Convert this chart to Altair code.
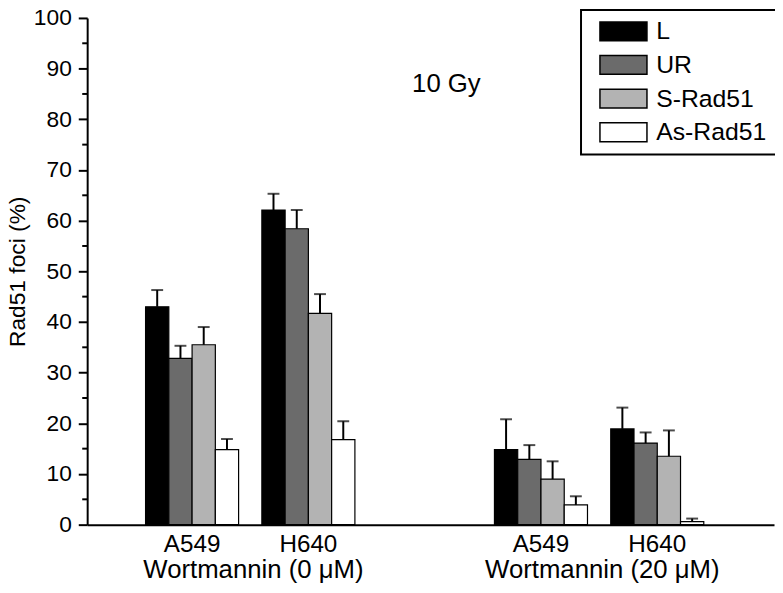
import altair as alt
import pandas as pd

# categories
slots = ["A549 0", "H640 0", "gap", "A549 20", "H640 20"]
cells = ["A549 0", "H640 0", "A549 20", "H640 20"]
series = ["L", "UR", "S-Rad51", "As-Rad51"]
colors = ["#000000", "#6b6b6b", "#b3b3b3", "#ffffff"]

# values per series (order = cells)
L_val = [43.0, 62.1, 14.8, 18.9]
L_err = [3.3, 3.2, 6.0, 4.2]
UR_val = [32.8, 58.4, 12.9, 16.1]
UR_err = [2.5, 3.7, 2.8, 2.1]
S_val = [35.5, 41.7, 9.0, 13.5]
S_err = [3.5, 3.8, 3.5, 5.1]
As_val = [14.8, 16.8, 3.9, 0.6]
As_err = [2.1, 3.6, 1.7, 0.6]

group_labels = ["Wortmannin (0 \u03bcM)", "Wortmannin (20 \u03bcM)"]
group_anchor = ["A549 0", "A549 20"]
major_ticks = list(range(0, 101, 10))
minor_ticks = list(range(5, 100, 10))

rows = []
for s, vals, errs in [("L", L_val, L_err), ("UR", UR_val, UR_err),
                      ("S-Rad51", S_val, S_err), ("As-Rad51", As_val, As_err)]:
    for c, v, e in zip(cells, vals, errs):
        rows.append({"cell": c, "series": s, "value": v, "hi": v + e})
df = pd.DataFrame(rows)

FONT = "Liberation Sans"

x_enc = alt.X("cell:N",
              scale=alt.Scale(domain=slots, paddingInner=0.2, paddingOuter=0.553, align=0.454),
              axis=alt.Axis(title=None, labelAngle=0, ticks=False, tickSize=0,
                            labelFontSize=24.5, labelPadding=8, labelColor="black",
                            domainColor="black", domainWidth=2,
                            labelExpr="datum.value == 'gap' ? '' : split(datum.value, ' ')[0]"))
xo_enc = alt.XOffset("series:N", scale=alt.Scale(domain=series, paddingInner=0, paddingOuter=0))
y_scale = alt.Scale(domain=[0, 100], nice=False)

bars = alt.Chart(df).mark_bar(stroke="black", strokeWidth=1.2).encode(
    x=x_enc,
    xOffset=xo_enc,
    y=alt.Y("value:Q", scale=y_scale,
            axis=alt.Axis(values=major_ticks, title="Rad51 foci (%)", titleFontSize=23,
                          titleFontWeight="normal", titleColor="black", titlePadding=4,
                          labelFontSize=23, labelColor="black", labelPadding=7,
                          tickSize=9, tickWidth=2, tickColor="black",
                          domainColor="black", domainWidth=2, grid=False)),
    color=alt.Color("series:N", scale=alt.Scale(domain=series, range=colors),
                    legend=alt.Legend(title=None, orient="none", legendX=499, legendY=-8,
                                      symbolType="M-0.25,-1L4.75,-1L4.75,1L-0.25,1Z",
                                      symbolSize=361, symbolStrokeColor="black",
                                      symbolStrokeWidth=1.5, symbolOpacity=1,
                                      labelFontSize=25, labelColor="black", labelOffset=42,
                                      rowPadding=8, padding=9, strokeColor="black")),
)

stems = alt.Chart(df).mark_rule(color="black", strokeWidth=2).encode(
    x=x_enc, xOffset=xo_enc, y=alt.Y("value:Q", scale=y_scale), y2="hi:Q")

caps = alt.Chart(df).mark_tick(color="black", thickness=2, size=12).encode(
    x=x_enc, xOffset=xo_enc, y=alt.Y("hi:Q", scale=y_scale))

minor = alt.Chart(pd.DataFrame({"v": minor_ticks})).mark_rule(color="black", strokeWidth=2).encode(
    y=alt.Y("v:Q", scale=y_scale), x=alt.value(-5), x2=alt.value(0))

glabels = alt.Chart(pd.DataFrame({"cell": group_anchor, "label": group_labels})).mark_text(
    fontSize=26, baseline="alphabetic", align="center", dx=62, color="black").encode(
    x=alt.X("cell:N", scale=alt.Scale(domain=slots)), y=alt.value(566), text="label:N")

note = alt.Chart(pd.DataFrame({"t": ["10 Gy"]})).mark_text(
    fontSize=26, baseline="alphabetic", align="center", color="black").encode(
    x=alt.value(363), y=alt.value(75), text="t:N")

chart = alt.layer(bars, stems, caps, minor, glabels, note).properties(
    width=694, height=512,
    autosize=alt.AutoSizeParams(type="none"),
    padding={"left": 80, "top": 7, "right": 1, "bottom": 66},
).configure(font=FONT).configure_view(stroke=None).configure_legend(strokeWidth=2)

chart.save("out.html", embed_options={"renderer": "svg", "actions": False})
